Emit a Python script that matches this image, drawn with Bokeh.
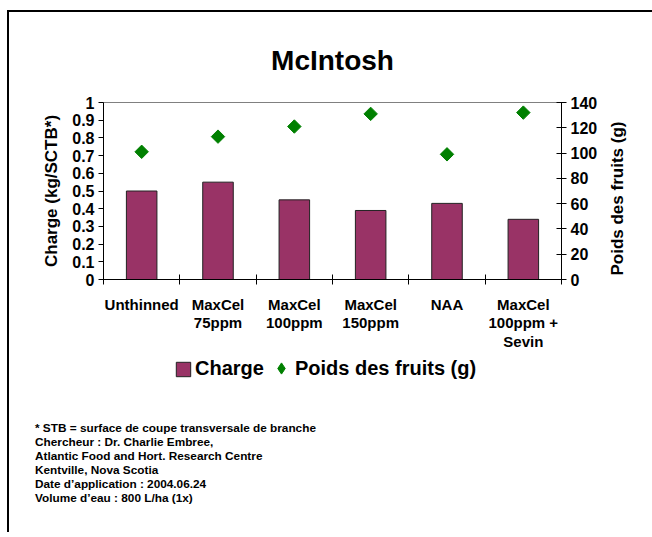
from bokeh.plotting import figure
from bokeh.models import (Range1d, LinearAxis, FixedTicker, NumeralTickFormatter,
                          Legend, LegendItem, Label, Div, ColumnDataSource)
from bokeh.layouts import column, row
from bokeh.embed import file_html
from bokeh.resources import INLINE
import math

# ---- data ----
categories = ["Unthinned", "MaxCel\n75ppm", "MaxCel\n100ppm", "MaxCel\n150ppm", "NAA", "MaxCel\n100ppm +\nSevin"]
charge = [0.50, 0.55, 0.45, 0.39, 0.43, 0.34]
poids = [101, 113, 121, 131, 99, 132]
left_ticks = [0, 0.1, 0.2, 0.3, 0.4, 0.5, 0.6, 0.7, 0.8, 0.9, 1.0]
right_ticks = [0, 20, 40, 60, 80, 100, 120, 140]
footer_lines = [
    "* STB = surface de coupe transversale de branche",
    "Chercheur : Dr. Charlie Embree,",
    "Atlantic Food and Hort. Research Centre",
    "Kentville, Nova Scotia",
    "Date d\u2019application : 2004.06.24",
    "Volume d\u2019eau : 800 L/ha (1x)",
]

FONT = "Liberation Sans"
BAR = "#993366"
BAR_LINE = "#222222"
GREEN = "#008000"

n = len(categories)
centers = [i + 0.5 for i in range(n)]
bounds = [i for i in range(n + 1)]

src = ColumnDataSource(dict(x=centers, charge=charge, poids=poids))

# ---------------- main chart ----------------
TOP, BOTTOM, LEFT, RIGHT = 90, 72, 94, 48
FW, FH = 458, 177
PH = TOP + FH + BOTTOM
PW = LEFT + FW + RIGHT

p = figure(frame_width=FW, frame_height=FH, output_backend="svg", toolbar_location=None,
           x_range=Range1d(0, n), y_range=Range1d(0, 1),
           min_border_left=LEFT, min_border_right=RIGHT, min_border_top=TOP, min_border_bottom=BOTTOM)
p.background_fill_color = "white"
p.border_fill_color = "white"
p.outline_line_color = "#808080"
p.outline_line_width = 1
p.xgrid.visible = False
p.ygrid.visible = False

p.title.text = "McIntosh"
p.title.align = "center"
p.title.offset = 3
p.title.text_font = FONT
p.title.text_font_style = "bold"
p.title.text_font_size = "28px"
p.title.text_color = "black"
p.title.standoff = 54

p.extra_y_ranges = {"poids": Range1d(0, 140)}

bars = p.vbar(x="x", top="charge", width=0.4, source=src, fill_color=BAR,
              line_color=BAR_LINE, line_width=1)
pts = p.scatter(x="x", y="poids", source=src, y_range_name="poids", marker="square",
                size=9.5, angle=math.pi / 4, fill_color=GREEN, line_color=GREEN)

xa = p.xaxis[0]
xa.ticker = FixedTicker(ticks=centers, minor_ticks=bounds)
xa.major_label_overrides = {c: lab for c, lab in zip(centers, categories)}
xa.major_tick_line_color = None
xa.minor_tick_line_color = "black"
xa.minor_tick_in = 5
xa.minor_tick_out = 5
xa.axis_line_color = "black"
xa.major_label_standoff = 10
xa.major_label_text_font = FONT
xa.major_label_text_font_style = "bold"
xa.major_label_text_font_size = "15px"
xa.major_label_text_line_height = 1.1
xa.major_label_text_color = "black"

ya = p.yaxis[0]
ya.ticker = FixedTicker(ticks=left_ticks)
ya.formatter = NumeralTickFormatter(format="0.[0]")
ya.minor_tick_line_color = None
ya.major_tick_in = 0
ya.major_tick_out = 5
ya.axis_line_color = "black"
ya.major_label_standoff = 4
ya.major_label_text_font = FONT
ya.major_label_text_font_style = "bold"
ya.major_label_text_font_size = "16px"
ya.major_label_text_color = "black"
ya.axis_label = "Charge (kg/SCTB*)"
ya.axis_label_text_font = FONT
ya.axis_label_text_font_style = "bold"
ya.axis_label_text_font_size = "17px"
ya.axis_label_text_color = "black"
ya.axis_label_standoff = 8

ra = LinearAxis(y_range_name="poids", ticker=FixedTicker(ticks=right_ticks))
ra.minor_tick_line_color = None
ra.major_tick_in = 5
ra.major_tick_out = 5
ra.axis_line_color = "black"
ra.major_label_standoff = 4
ra.major_label_text_font = FONT
ra.major_label_text_font_style = "bold"
ra.major_label_text_font_size = "16px"
ra.major_label_text_color = "black"
p.add_layout(ra, "right")

# ---------------- right axis title (reads bottom to top) ----------------
RW = 652 - 9 - PW
rfig = figure(width=RW, height=PH, output_backend="svg", toolbar_location=None,
              x_range=Range1d(0, RW), y_range=Range1d(0, PH),
              x_axis_type=None, y_axis_type=None, min_border=0)
rfig.outline_line_color = None
rfig.xgrid.visible = False
rfig.ygrid.visible = False
rfig.border_fill_color = "white"
rfig.add_layout(Label(x=617 - 9 - PW, y=PH - (197 - 12), text="Poids des fruits (g)",
                      angle=90, angle_units="deg", text_align="center", text_baseline="middle",
                      text_font=FONT, text_font_style="bold", text_font_size="17px",
                      text_color="black"))

# ---------------- legend strip ----------------
# the legend's renderers carry the same data but are kept out of this strip's view
LH = 40
legfig = figure(width=652 - 9, height=LH, output_backend="svg", toolbar_location=None,
                x_range=Range1d(-20, -19), y_range=Range1d(-20, -19),
                x_axis_type=None, y_axis_type=None, min_border=0)
legfig.outline_line_color = None
legfig.xgrid.visible = False
legfig.ygrid.visible = False
lbar = legfig.vbar(x="x", top="charge", source=src, width=0.4, fill_color=BAR,
                   line_color=BAR_LINE, line_width=1)
lpts = legfig.scatter(x="x", y="poids", source=src, marker="diamond",
                      fill_color=GREEN, line_color=GREEN)

common = dict(orientation="horizontal", padding=0, margin=0, border_line_color=None,
              background_fill_alpha=0, label_text_font=FONT, label_text_font_style="bold",
              label_text_font_size="20px", label_text_color="black")
leg1 = Legend(items=[LegendItem(label="Charge", renderers=[lbar])], location=(165, 12),
              glyph_width=18, glyph_height=18, label_standoff=3, **common)
leg2 = Legend(items=[LegendItem(label="Poids des fruits (g)", renderers=[lpts])], location=(258, 10),
              glyph_width=28, glyph_height=28, label_standoff=-1, **common)
legfig.add_layout(leg1)
legfig.add_layout(leg2)

# ---------------- footer ----------------
foot_html = ('<div style="padding-left:26px;padding-top:29px;font-family:\'Liberation Sans\',Arial,sans-serif;'
             'font-weight:bold;font-size:11.8px;line-height:14px;color:#000;">'
             + "<br>".join(footer_lines) + "</div>")
foot = Div(text=foot_html, width=652 - 9, height=140, margin=0)

root = column(row(p, rfig), legfig, foot,
              styles={"border-top": "2px solid #000", "border-left": "2px solid #000",
                      "margin-top": "10px", "margin-left": "7px"})

open("out.html", "w").write(file_html(root, INLINE))
